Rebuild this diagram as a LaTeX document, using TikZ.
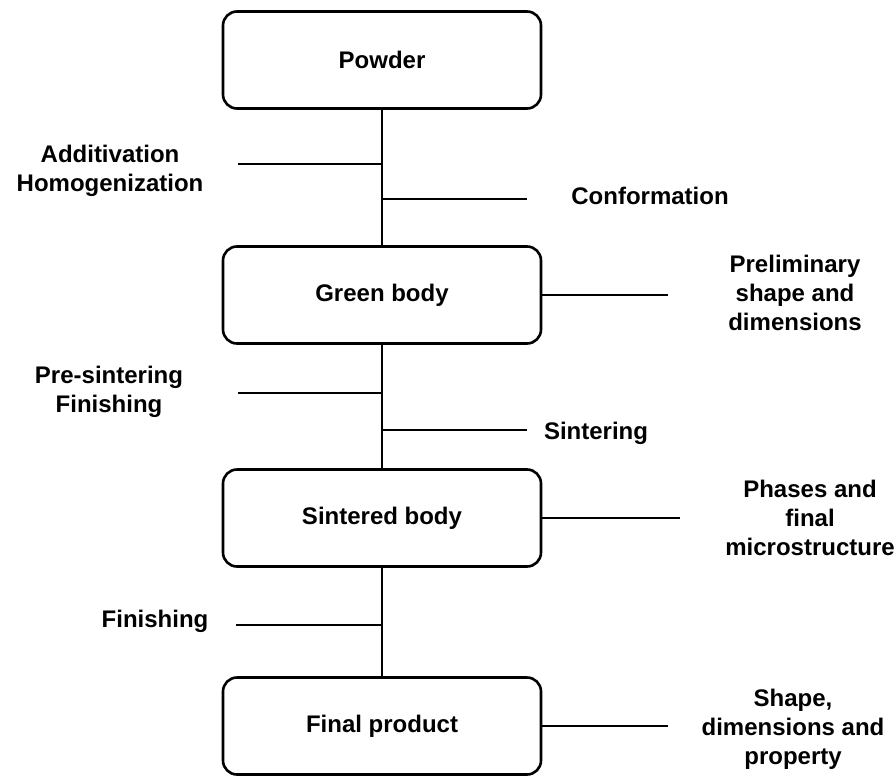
\documentclass[tikz,border=0pt]{standalone}
\usepackage{fontspec}
\setmainfont{Liberation Sans}
\begin{document}
\begin{tikzpicture}[x=1pt,y=-1pt,
  box/.style={draw, line width=2.6pt, rounded corners=14pt, minimum width=318pt, minimum height=97pt, inner sep=0pt, font=\fontsize{24}{29}\selectfont\bfseries},
  lbl/.style={align=center, inner sep=0pt, font=\fontsize{24}{29}\selectfont\bfseries},
  ln/.style={line width=2.4pt}]
\useasboundingbox[fill=white] (0,0) rectangle (896,776);
% boxes
\node[box] (powder) at (382,60) {Powder};
\node[box] (green) at (382,295) {Green body};
\node[box] (sint) at (382,518) {Sintered body};
\node[box] (final) at (382,726) {Final product};
% main trunk
\draw[ln] (powder.south) -- (green.north);
\draw[ln] (green.south) -- (sint.north);
\draw[ln] (sint.south) -- (final.north);
% branch points
\coordinate (b1) at (382,164); \coordinate (e1) at (238,164);
\coordinate (b2) at (382,199); \coordinate (e2) at (527,199);
\coordinate (e3) at (668,295);
\coordinate (b4) at (382,393); \coordinate (e4) at (238,393);
\coordinate (b5) at (382,430); \coordinate (e5) at (527,430);
\coordinate (e6) at (680,518);
\coordinate (b7) at (382,625); \coordinate (e7) at (236,625);
\coordinate (e8) at (668,726);
\draw[ln] (b1) -- (e1);
\draw[ln] (b2) -- (e2);
\draw[ln] (green.east) -- (e3);
\draw[ln] (b4) -- (e4);
\draw[ln] (b5) -- (e5);
\draw[ln] (sint.east) -- (e6);
\draw[ln] (b7) -- (e7);
\draw[ln] (final.east) -- (e8);
% labels
\node[lbl] (l1) at (110,171) {Additivation\\Homogenization};
\node[lbl] (l2) at (650,196) {Conformation};
\node[lbl] (l3) at (795,293) {Preliminary\\shape and\\dimensions};
\node[lbl] (l4) at (109,392) {Pre-sintering\\Finishing};
\node[lbl] (l5) at (596,433) {Sintering};
\node[lbl] (l6) at (810,518) {Phases and\\final\\microstructure};
\node[lbl] (l7) at (155,621) {Finishing};
\node[lbl] (l8) at (793,729) {Shape,\\dimensions and\\property};
\end{tikzpicture}
\end{document}
